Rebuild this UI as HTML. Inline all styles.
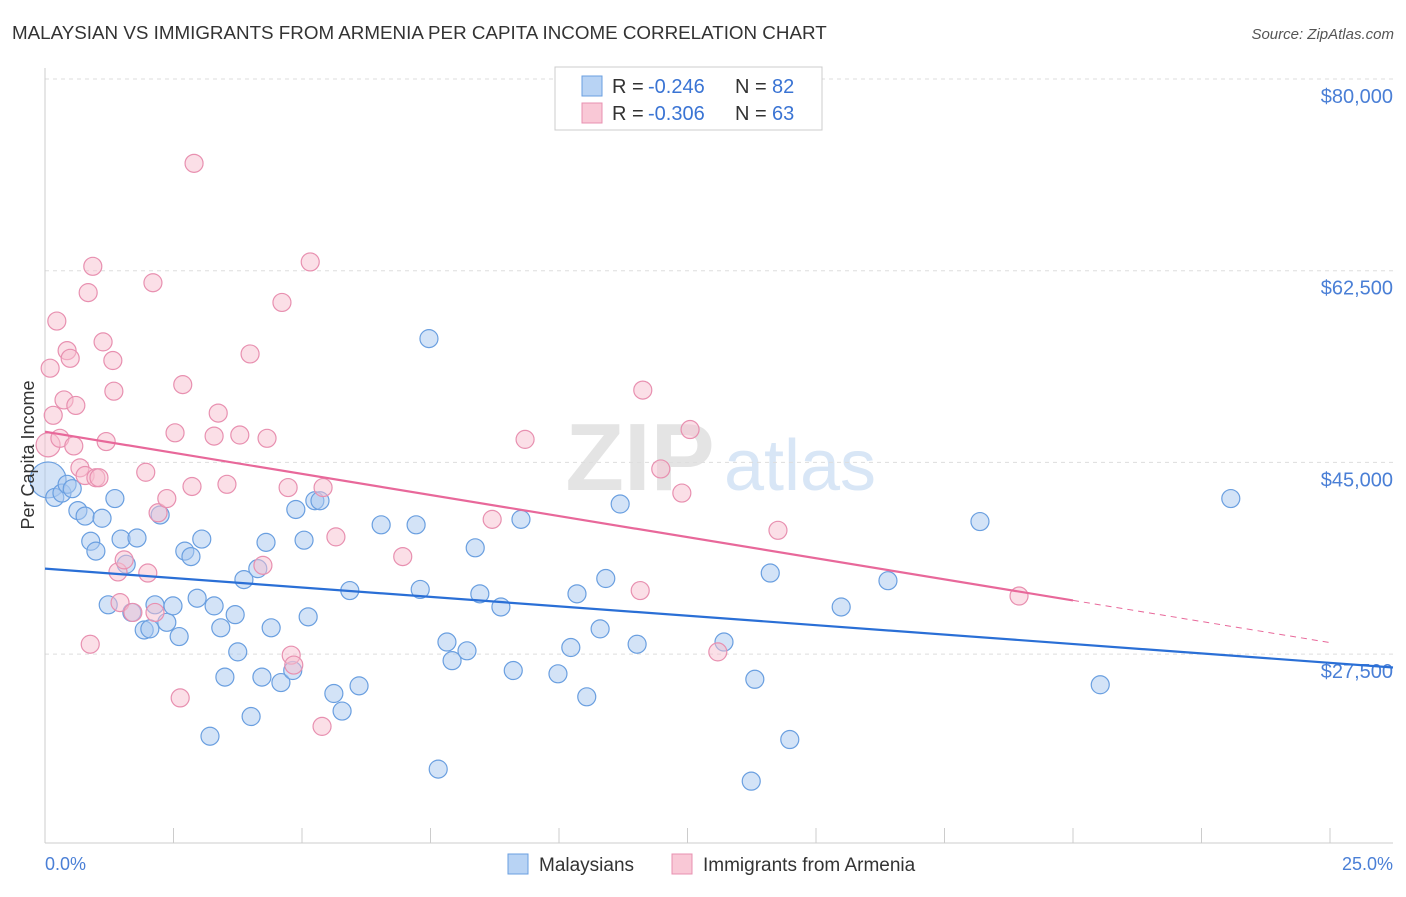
<!DOCTYPE html>
<html><head><meta charset="utf-8">
<style>
body{margin:0;background:#fff;font-family:"Liberation Sans",sans-serif;}
svg text{font-family:"Liberation Sans",sans-serif;}
</style></head>
<body>
<svg id="chart" width="1406" height="892" viewBox="0 0 1406 892" xmlns="http://www.w3.org/2000/svg">
<text x="12" y="39" font-size="18.8" fill="#333">MALAYSIAN VS IMMIGRANTS FROM ARMENIA PER CAPITA INCOME CORRELATION CHART</text>
<text x="1394" y="39" font-size="15" fill="#555" text-anchor="end" font-style="italic">Source: ZipAtlas.com</text>
<g>
<text x="640" y="490" font-size="96" fill="#e4e4e4" text-anchor="middle" font-family="Liberation Serif" font-weight="bold">ZIP</text>
<text x="800" y="490" font-size="72" fill="#d8e6f6" text-anchor="middle">atlas</text>
</g>
<g id="grid"></g>
<g id="axes"></g>
<g id="pts"></g>
<g id="trend"></g>
<text transform="translate(34,455) rotate(-90)" font-size="18" fill="#333" text-anchor="middle">Per Capita Income</text>
<text x="45" y="870" font-size="18" fill="#4a7fd6">0.0%</text>
<text x="1393" y="870" font-size="18" fill="#4a7fd6" text-anchor="end">25.0%</text>
<g>
<rect x="555" y="67" width="267" height="63" fill="#fff" stroke="#ccc"/>
<rect x="582" y="76" width="20" height="20" fill="#b8d3f4" stroke="#6a9fe0"/>
<rect x="582" y="103" width="20" height="20" fill="#f9c8d6" stroke="#e890b0"/>
<text x="612" y="93" font-size="20" fill="#333">R =</text>
<text x="648" y="93" font-size="20" fill="#3a74d4">-0.246</text>
<text x="735" y="93" font-size="20" fill="#333">N =</text>
<text x="772" y="93" font-size="20" fill="#3a74d4">82</text>
<text x="612" y="120" font-size="20" fill="#333">R =</text>
<text x="648" y="120" font-size="20" fill="#3a74d4">-0.306</text>
<text x="735" y="120" font-size="20" fill="#333">N =</text>
<text x="772" y="120" font-size="20" fill="#3a74d4">63</text>
</g>
<g>
<rect x="508" y="854" width="20" height="20" fill="#b8d3f4" stroke="#6a9fe0"/>
<text x="539" y="871" font-size="19" fill="#333">Malaysians</text>
<rect x="672" y="854" width="20" height="20" fill="#f9c8d6" stroke="#e890b0"/>
<text x="703" y="871" font-size="19" fill="#333">Immigrants from Armenia</text>
</g>
</svg>
<script>
const yTicks=[80000,62500,45000,27500];
const yTickLabels=["$80,000","$62,500","$45,000","$27,500"];
const xTicks=[0,2.5,5,7.5,10,12.5,15,17.5,20,22.5,25];
const blueX=[0.06,0.19,0.33,0.43,0.53,0.64,0.78,0.89,0.99,1.11,1.23,1.36,1.48,1.58,1.69,1.79,1.93,2.04,2.14,2.24,2.37,2.49,2.61,2.72,2.84,2.96,3.05,3.21,3.29,3.42,3.50,3.70,3.75,3.87,4.01,4.14,4.22,4.30,4.40,4.59,4.82,4.88,5.04,5.12,5.25,5.35,5.62,5.78,5.93,6.11,6.54,7.22,7.30,7.47,7.65,7.82,7.92,8.21,8.37,8.46,8.87,9.11,9.26,9.98,10.23,10.35,10.54,10.80,10.91,11.19,11.52,13.21,13.74,13.81,14.11,14.49,15.49,16.40,18.19,20.53,23.07];
const blueY=[43.4,41.8,42.2,43.0,42.6,40.6,40.1,37.8,36.9,39.9,32.0,41.7,38.0,35.7,31.3,38.1,29.7,29.8,32.0,40.2,30.4,31.9,29.1,36.9,36.4,32.6,38.0,20.0,31.9,29.9,25.4,31.1,27.7,34.3,21.8,35.3,25.4,37.7,29.9,24.9,26.0,40.7,37.9,30.9,41.5,41.5,23.9,22.3,33.3,24.6,39.3,39.3,33.4,56.3,17.0,28.6,26.9,27.8,37.2,33.0,31.8,26.0,39.8,25.7,28.1,33.0,23.6,29.8,34.4,41.2,28.4,28.6,15.9,25.2,34.9,19.7,31.8,34.2,39.6,24.7,41.7];
const pinkX=[0.06,0.10,0.16,0.23,0.29,0.37,0.43,0.49,0.56,0.60,0.68,0.78,0.84,0.88,0.93,0.99,1.05,1.13,1.19,1.32,1.34,1.42,1.46,1.54,1.71,1.96,2.00,2.10,2.14,2.20,2.37,2.53,2.63,2.68,2.86,2.90,3.29,3.37,3.54,3.79,3.99,4.24,4.32,4.61,4.73,4.79,4.84,5.16,5.39,5.41,5.66,6.96,8.70,9.34,11.58,11.63,11.98,12.39,12.55,13.09,14.26,18.95];
const pinkY=[46.6,53.6,49.3,57.9,47.2,50.7,55.2,54.5,46.5,50.2,44.5,43.8,60.5,28.4,62.9,43.6,43.6,56.0,46.9,54.3,51.5,35.0,32.2,36.1,31.3,44.1,34.9,61.4,31.3,40.4,41.7,47.7,23.5,52.1,42.8,72.3,47.4,49.5,43.0,47.5,54.9,35.6,47.2,59.6,42.7,27.4,26.5,63.3,20.9,42.7,38.2,36.4,39.8,47.1,33.3,51.6,44.4,42.2,48.0,27.7,38.8,32.8];
const blueTrend=[35.3,26.7];
const pinkTrend=[47.8,32.4];
const NS="http://www.w3.org/2000/svg";
const X=v=>45+v*51.4;
const Y=v=>79+(80-v)*10.954;
function mk(tag,attrs,parent){const e=document.createElementNS(NS,tag);for(const k in attrs)e.setAttribute(k,attrs[k]);document.getElementById(parent).appendChild(e);return e;}
yTicks.forEach((t,i)=>{
 const y=Y(t/1000);
 const g=mk('line',{x1:45,x2:1393,y1:y,y2:y,stroke:'#ddd','stroke-dasharray':'4,4'},'grid');
 
 
 const tx=mk('text',{x:1393,y:y+24,'font-size':20,fill:'#4a7fd6','text-anchor':'end'},'grid');
 tx.textContent=yTickLabels[i];
 
 
});
let a=mk('line',{x1:45,x2:45,y1:68,y2:843,stroke:'#ccc'},'axes');


a=mk('line',{x1:45,x2:1393,y1:843,y2:843,stroke:'#ccc'},'axes');


xTicks.forEach(t=>{
 const l=mk('line',{x1:X(t),x2:X(t),y1:828,y2:843,stroke:'#ccc'},'axes');
 
 
});
function pts(xs,ys,fill,stroke,name,bigR){
 xs.forEach((x,i)=>{
  const c=mk('circle',{cx:X(x),cy:Y(ys[i]),r:i===0?bigR:9,fill:fill,'fill-opacity':0.5,stroke:stroke,'stroke-width':1.2},'pts');
  
  
 });
}
pts(blueX,blueY,'#a8c8f0','#6a9fe0','malaysian-point',18);
pts(pinkX,pinkY,'#f8c0d0','#e890b0','armenia-point',12);
const bs=(blueTrend[1]-blueTrend[0])/25;
let l=mk('line',{x1:X(0),y1:Y(blueTrend[0]),x2:1393,y2:Y(blueTrend[0]+bs*(1348/51.4)),stroke:'#2a6fd6','stroke-width':2.2},'trend');


const ps=(pinkTrend[1]-pinkTrend[0])/20;
l=mk('line',{x1:X(0),y1:Y(pinkTrend[0]),x2:X(20),y2:Y(pinkTrend[1]),stroke:'#e8689a','stroke-width':2.2},'trend');


l=mk('line',{x1:X(20),y1:Y(pinkTrend[1]),x2:X(25),y2:Y(pinkTrend[0]+ps*25),stroke:'#e8689a','stroke-width':1,'stroke-dasharray':'6,5'},'trend');


</script>
</body></html>
